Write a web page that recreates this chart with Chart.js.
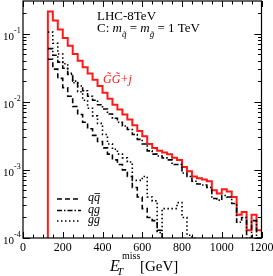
<!DOCTYPE html>
<html>
<head>
<meta charset="utf-8">
<script src="https://cdn.jsdelivr.net/npm/chart.js@4.4.0/dist/chart.umd.min.js"></script>
<style>
  html, body { margin: 0; padding: 0; background: #fff; }
  #wrap { width: 273px; height: 276px; position: relative; }
</style>
</head>
<body>
<div id="wrap"><canvas id="etChart"></canvas></div>
<script>
// left edges of the 25 GeV bins (GeV)
const binEdges = [125, 150, 175, 200, 225, 250, 275, 300, 325, 350, 375, 400, 425, 450, 475,
    500, 525, 550, 575, 600, 625, 650, 675, 700, 725, 750, 775, 800, 825, 850, 875, 900,
    925, 950, 975, 1000, 1025, 1050, 1075, 1100, 1125, 1150, 1175];
const binWidth = 25;

// total GG+j
const totalVals = [0.21, 0.155, 0.115, 0.086, 0.066, 0.050, 0.040, 0.032, 0.026, 0.021, 0.017,
    0.0135, 0.0110, 0.0090, 0.0077, 0.0065, 0.0055, 0.0045, 0.0037, 0.0031, 0.0024, 0.0021,
    0.0019, 0.0018, 0.0017, 0.0015, 0.0014, 0.0011, 0.00095, 0.0008, 0.00075, 0.00072,
    0.00068, 0.00050, 0.00045, 0.00052, 0.00048, 0.00040, 0.00022, 0.00024, 0.00013, 0.00022, 0.00013];

// q qbar (dashed)
const qqVals = [0.042, 0.030, 0.022, 0.016, 0.012, 0.0085, 0.0065, 0.0050, 0.0040, 0.0032, 0.0026,
    0.0021, 0.0017, 0.0014, 0.0012, 0.0010, 0.0008, 0.00055, 0.0004, 0.00027, 0.0002, 0.00018,
    0.00013, 0.000001];

// q g (dash-dot)
const qgVals = [0.060, 0.048, 0.038, 0.031, 0.025, 0.020, 0.017, 0.0145, 0.012, 0.0105, 0.009,
    0.0078, 0.0066, 0.0057, 0.0050, 0.0044, 0.0039, 0.0033, 0.0028, 0.0024, 0.0019, 0.0017,
    0.0016, 0.0015, 0.0014, 0.0012, 0.0012, 0.0009, 0.0008, 0.00068, 0.00062, 0.0006,
    0.00055, 0.00038, 0.00036, 0.00042, 0.0004, 0.00032, 0.00017, 0.0002, 0.0001, 0.00018, 0.0001];

// g g (dotted)
const ggVals = [0.105, 0.072, 0.050, 0.036, 0.026, 0.019, 0.014, 0.0105, 0.0080, 0.0062, 0.0048,
    0.0033, 0.0024, 0.0020, 0.0017, 0.0015, 0.0013, 0.0007, 0.0007, 0.0008, 0.0004, 0.00035,
    0.00012, 0.00027, 0.00027, 0.00027, 0.00033, 0.0002, 0.00011, 0.0001, 0.000001];

const xTicks = [0, 200, 400, 600, 800, 1000, 1200];
const yDecades = [-4, -3, -2, -1];

// turn bin values into step points (horizontal first, then vertical)
function histPoints(vals, fromBottom) {
    const pts = [];
    if (fromBottom) pts.push({ x: binEdges[0], y: 0.000001 });
    vals.forEach((v, i) => pts.push({ x: binEdges[i], y: v }));
    const last = vals.length - 1;
    if (vals[last] > 0.00001) pts.push({ x: binEdges[last] + binWidth, y: vals[last] });
    return pts;
}

const serif = '"Liberation Serif", "DejaVu Serif", serif';

const decorPlugin = {
    id: 'decor',
    afterDraw(chart) {
        const ctx = chart.ctx;
        const a = chart.chartArea;
        const xs = chart.scales.x, ys = chart.scales.y;
        ctx.save();
        ctx.strokeStyle = '#000';
        ctx.fillStyle = '#000';

        // frame
        ctx.lineWidth = 1.2;
        ctx.strokeRect(a.left, a.top, a.right - a.left, a.bottom - a.top);

        // x ticks, bottom and top, inward
        ctx.lineWidth = 1;
        ctx.beginPath();
        for (let v = 0; v <= 1200; v += 50) {
            const px = Math.round(xs.getPixelForValue(v)) + 0.5;
            const len = v % 200 === 0 ? 6 : 3.5;
            ctx.moveTo(px, a.bottom); ctx.lineTo(px, a.bottom - len);
            ctx.moveTo(px, a.top); ctx.lineTo(px, a.top + len);
        }
        // y ticks, left and right
        yDecades.forEach(d => {
            for (let m = 1; m <= 9; m++) {
                const val = m * Math.pow(10, d);
                if (val > ys.max) break;
                const py = Math.round(ys.getPixelForValue(val)) + 0.5;
                const len = m === 1 ? 7 : 3.5;
                ctx.moveTo(a.left, py); ctx.lineTo(a.left + len, py);
                ctx.moveTo(a.right, py); ctx.lineTo(a.right - len, py);
            }
        });
        ctx.stroke();

        // x tick labels
        ctx.font = '12px ' + serif;
        ctx.textAlign = 'center';
        ctx.textBaseline = 'alphabetic';
        xTicks.forEach(v => ctx.fillText(String(v), xs.getPixelForValue(v), a.bottom + 13));

        // y tick labels 10^n
        yDecades.forEach(d => {
            const py = ys.getPixelForValue(Math.pow(10, d));
            ctx.textAlign = 'left';
            ctx.font = '11px ' + serif;
            ctx.fillText('10', 3, py + 6);
            ctx.font = '8px ' + serif;
            ctx.fillText('-' + Math.abs(d), 14, py - 1);
        });

        // header text
        ctx.textAlign = 'left';
        ctx.font = '13px ' + serif;
        ctx.fillText('LHC-8TeV', 97, 20);
        let x = 97;
        const y2 = 32;
        const put = (txt, font, dy) => {
            ctx.font = font;
            ctx.fillText(txt, x, y2 + (dy || 0));
            x += ctx.measureText(txt).width;
        };
        put('C: ', '13px ' + serif);
        put('m', 'italic 13px ' + serif);
        put('q\u0303', 'italic 9px ' + serif, 5);
        put(' = ', '13px ' + serif);
        put('m', 'italic 13px ' + serif);
        put('g\u0303', 'italic 9px ' + serif, 5);
        put(' = 1 TeV', '13px ' + serif);

        // red label
        ctx.fillStyle = 'rgb(255,25,25)';
        ctx.font = 'italic 12px ' + serif;
        ctx.fillText('G\u0303G\u0303+j', 103, 83);
        ctx.fillStyle = '#000';

        // legend
        const legendRows = [
            { dash: [5, 3], y: 199 },
            { dash: [5, 2, 1.5, 2], y: 210.5 },
            { dash: [1.5, 2.5], y: 221 }
        ];
        ctx.lineWidth = 1.6;
        legendRows.forEach(r => {
            ctx.setLineDash(r.dash);
            ctx.beginPath();
            ctx.moveTo(57, r.y); ctx.lineTo(81, r.y);
            ctx.stroke();
        });
        ctx.setLineDash([]);
        ctx.font = 'italic 12px ' + serif;
        ctx.fillText('qq', 88, 201);
        const qw = ctx.measureText('q').width;
        ctx.lineWidth = 0.8;
        ctx.beginPath();
        ctx.moveTo(88 + qw + 0.5, 193.5); ctx.lineTo(88 + 2 * qw, 193.5);
        ctx.stroke();
        ctx.fillText('qg', 88, 212.5);
        ctx.fillText('gg', 88, 223);

        // x axis title
        ctx.font = 'italic 16px ' + serif;
        ctx.fillText('E', 110, 271);
        ctx.font = 'italic 11px ' + serif;
        ctx.fillText('T', 117, 275);
        ctx.font = '10px ' + serif;
        ctx.fillText('miss', 122, 259);
        ctx.font = '15px ' + serif;
        ctx.fillText('[GeV]', 140, 271);
        ctx.restore();
    }
};

const ctx = document.getElementById('etChart').getContext('2d');
new Chart(ctx, {
    type: 'line',
    data: {
        datasets: [
            {
                label: 'qq',
                data: histPoints(qqVals, false),
                borderColor: '#000', borderWidth: 1.6, borderDash: [5, 3]
            },
            {
                label: 'qg',
                data: histPoints(qgVals, false),
                borderColor: '#000', borderWidth: 1.6, borderDash: [5, 2, 1.5, 2]
            },
            {
                label: 'gg',
                data: histPoints(ggVals, false),
                borderColor: '#000', borderWidth: 1.6, borderDash: [1.5, 2.5]
            },
            {
                label: 'GG+j',
                data: histPoints(totalVals, true),
                borderColor: 'rgb(255,25,25)', borderWidth: 2
            }
        ]
    },
    options: {
        responsive: true,
        maintainAspectRatio: false,
        animation: false,
        devicePixelRatio: 1,
        layout: { padding: { left: 23, right: 11.5, top: 1, bottom: 38 } },
        elements: {
            line: { stepped: true, tension: 0, fill: false },
            point: { radius: 0 }
        },
        plugins: { legend: { display: false }, tooltip: { enabled: false } },
        scales: {
            x: { type: 'linear', min: 0, max: 1200, display: false },
            y: { type: 'logarithmic', min: 0.0001, max: 0.3, display: false }
        }
    },
    plugins: [decorPlugin]
});
</script>
</body>
</html>
